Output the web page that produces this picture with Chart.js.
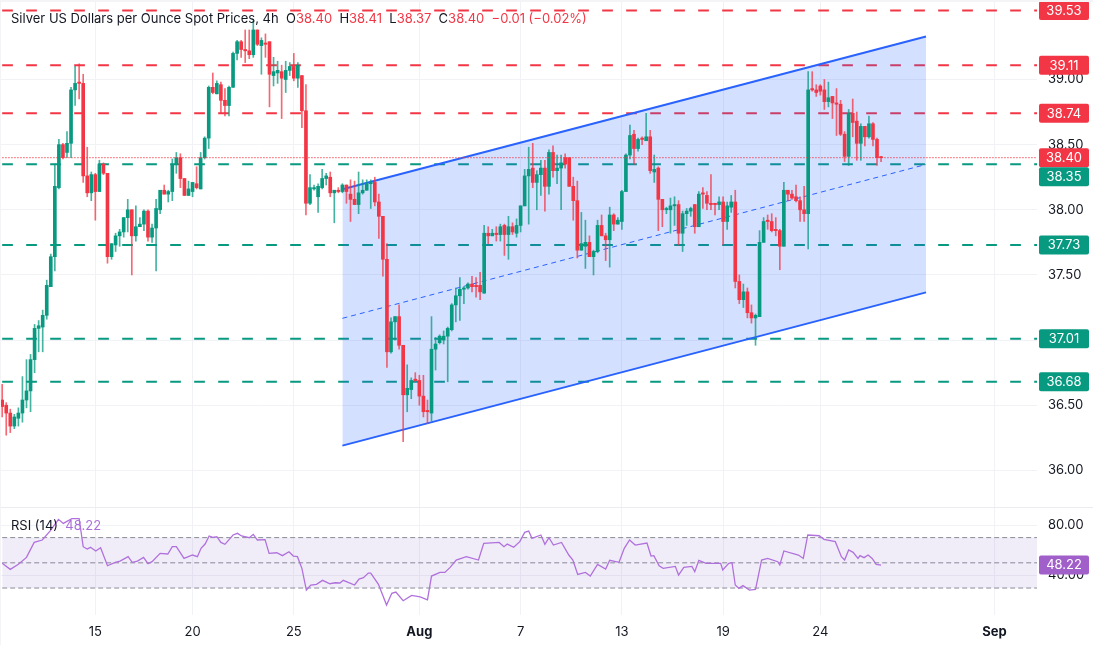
<!DOCTYPE html>
<html>
<head>
<meta charset="utf-8">
<title>Silver US Dollars per Ounce Spot Prices</title>
<script src="https://cdn.jsdelivr.net/npm/chart.js@4"></script>
<style>
  html, body { margin: 0; padding: 0; background: #fff; }
  body { width: 1093px; height: 645px; position: relative; overflow: hidden; font-family: Inter, sans-serif; }
  canvas { position: absolute; left: 0; }
  #priceChart { top: 0; }
  #rsiChart { top: 507px; }
  .legend { position: absolute; left: 11px; font-size: 13px; line-height: 16px; color: #131722; white-space: pre; }
  .legend .r { color: #f23645; }
  .legend .p { color: #ab6fdb; }
  .rule { position: absolute; background: #eaecf2; }
</style>
</head>
<body>
<canvas id="priceChart" width="1093" height="507"></canvas>
<canvas id="rsiChart" width="1093" height="138"></canvas>
<div class="rule" style="left:0;top:0;width:1093px;height:2px;background:#f4f4f6"></div>
<div class="rule" style="left:0;top:507px;width:1093px;height:1px"></div>
<div class="rule" style="left:0;top:0;width:1px;height:645px;background:#f4f4f6"></div>
<div class="legend" style="top:10px">Silver US Dollars per Ounce Spot Prices, 4h  O<span class="r">38.40</span>  H<span class="r">38.41</span>  L<span class="r">38.37</span>  C<span class="r">38.40</span>  <span class="r">−0.01 (−0.02%)</span></div>
<div class="legend" style="top:517px">RSI (14)  <span class="p">48.22</span></div>
<script>
// 4h candles
var opens = [
  36.54,36.50,36.44,36.34,36.40,36.44,36.54,36.61,36.85,37.09,
  37.10,37.19,37.41,37.64,38.17,38.50,38.44,38.51,38.92,38.98,
  38.97,38.26,38.13,38.27,38.14,38.35,38.28,37.64,37.73,37.80,
  37.83,37.94,38.00,37.80,37.87,37.89,37.99,37.79,37.86,38.00,
  38.15,38.12,38.14,38.35,38.40,38.24,38.11,38.14,38.20,38.16,
  38.40,38.55,38.94,38.89,38.96,38.84,38.80,38.94,39.20,39.29,
  39.23,39.22,39.19,39.38,39.26,39.28,39.29,39.03,39.05,39.06,
  39.00,39.07,39.10,39.01,39.03,38.76,38.05,38.16,38.10,38.17,
  38.24,38.25,38.13,38.15,38.14,38.19,38.12,38.08,38.04,38.13,
  38.15,38.20,38.21,38.06,37.95,37.62,36.91,37.14,37.18,36.96,
  36.58,36.62,36.70,36.69,36.57,36.46,36.44,36.93,36.98,37.00,
  37.03,37.08,37.27,37.34,37.39,37.40,37.43,37.42,37.42,37.36,
  37.82,37.80,37.82,37.81,37.88,37.81,37.87,37.82,37.88,38.03,
  38.26,38.32,38.21,38.27,38.32,38.18,38.44,38.30,38.32,38.40,
  38.40,38.18,38.07,37.69,37.72,37.75,37.64,37.68,37.88,37.80,
  37.77,37.96,37.89,37.91,38.14,38.42,38.58,38.47,38.55,38.53,
  38.56,38.29,38.32,38.08,38.00,38.00,38.03,38.04,37.82,37.97,
  37.99,38.04,37.87,38.13,38.11,38.05,38.05,38.04,38.06,37.91,
  38.02,38.06,37.45,37.31,37.37,37.21,37.17,37.18,37.75,37.92,
  37.91,37.85,37.84,37.72,38.15,38.12,38.10,38.07,38.00,37.97,
  38.93,38.92,38.95,38.92,38.83,38.87,38.82,38.81,38.58,38.41,
  38.74,38.68,38.51,38.64,38.56,38.66,38.54,38.40
];
var highs = [
  36.66,36.52,36.47,36.43,36.48,36.72,36.85,36.89,37.12,37.15,
  37.23,37.46,37.66,38.35,38.54,38.51,38.60,38.94,39.10,39.12,
  39.04,38.48,38.29,38.28,38.38,38.36,38.28,37.74,37.82,37.85,
  37.94,38.08,38.00,38.03,37.94,38.00,38.00,37.89,38.08,38.15,
  38.19,38.15,38.39,38.44,38.43,38.24,38.22,38.21,38.33,38.44,
  38.56,38.95,39.05,38.99,38.98,38.93,38.95,39.21,39.30,39.30,
  39.38,39.38,39.45,39.38,39.32,39.35,39.29,39.17,39.14,39.11,
  39.14,39.13,39.20,39.13,39.03,38.96,38.27,38.19,38.20,38.31,
  38.28,38.29,38.15,38.17,38.20,38.19,38.23,38.22,38.29,38.23,
  38.23,38.23,38.25,38.12,37.95,37.74,37.17,37.18,37.27,36.96,
  36.81,36.71,36.75,36.73,36.73,36.54,37.18,37.02,37.04,37.07,
  37.10,37.28,37.40,37.48,37.41,37.44,37.49,37.48,37.52,37.88,
  37.87,37.85,37.87,37.89,37.89,37.95,37.90,37.93,38.03,38.31,
  38.48,38.51,38.30,38.38,38.38,38.46,38.49,38.42,38.42,38.43,
  38.40,38.25,38.22,37.98,37.92,37.80,37.69,37.92,37.96,37.82,
  38.02,37.97,37.94,38.15,38.43,38.65,38.61,38.55,38.56,38.74,
  38.61,38.42,38.33,38.08,38.02,38.09,38.10,38.07,37.99,38.01,
  38.02,38.04,38.14,38.17,38.14,38.27,38.05,38.10,38.10,38.06,
  38.11,38.15,37.50,37.43,37.40,37.27,37.20,37.84,37.94,37.96,
  37.97,37.94,37.85,38.21,38.15,38.15,38.19,38.10,38.18,39.06,
  39.06,38.96,38.96,39.00,38.98,38.87,38.93,38.84,38.60,38.77,
  38.85,38.75,38.66,38.64,38.72,38.67,38.55,38.41
];
var lows = [
  36.41,36.27,36.29,36.32,36.34,36.37,36.48,36.45,36.75,36.91,
  36.91,37.16,37.41,37.53,38.16,38.39,38.40,38.40,38.80,38.85,
  38.21,38.10,38.07,37.92,38.14,38.27,37.59,37.62,37.68,37.72,
  37.79,37.83,37.50,37.76,37.87,37.84,37.76,37.75,37.53,37.97,
  38.12,38.06,38.07,38.28,38.17,38.11,38.11,38.10,38.16,38.16,
  38.39,38.47,38.89,38.89,38.74,38.72,38.72,38.94,39.15,39.17,
  39.13,39.16,39.17,39.26,39.04,39.17,38.79,38.95,38.97,38.70,
  38.90,39.03,38.99,38.94,38.63,37.96,38.04,38.15,37.98,38.16,
  38.19,38.10,37.90,38.13,38.13,38.05,37.91,38.04,37.97,38.12,
  38.15,38.01,38.03,37.78,37.49,36.79,36.90,37.00,36.93,36.22,
  36.45,36.55,36.68,36.50,36.41,36.36,36.38,36.77,36.97,36.97,
  36.68,37.07,37.14,37.15,37.28,37.39,37.37,37.33,37.31,37.36,
  37.74,37.80,37.76,37.76,37.65,37.62,37.81,37.79,37.83,38.03,
  37.89,38.17,38.00,38.11,37.99,38.12,38.25,38.20,38.00,38.32,
  38.18,37.92,37.63,37.69,37.55,37.64,37.50,37.67,37.80,37.61,
  37.56,37.84,37.89,37.85,38.14,38.39,38.35,38.45,38.50,38.53,
  38.28,38.21,37.84,37.87,37.97,37.82,37.88,37.73,37.68,37.88,
  37.95,37.82,37.87,38.01,38.00,38.00,37.96,38.00,37.73,37.85,
  37.98,37.40,37.28,37.25,37.17,37.13,36.96,37.18,37.75,37.85,
  37.83,37.80,37.54,37.72,38.07,38.08,38.06,37.91,37.91,37.70,
  38.91,38.87,38.88,38.77,38.79,38.70,38.57,38.57,38.37,38.34,
  38.56,38.38,38.38,38.49,38.55,38.49,38.34,38.37
];
var closes = [
  36.49,36.44,36.34,36.41,36.44,36.54,36.61,36.85,37.09,37.11,
  37.19,37.42,37.64,38.18,38.50,38.40,38.51,38.92,38.97,38.97,
  38.26,38.13,38.27,38.14,38.35,38.28,37.64,37.74,37.80,37.83,
  37.94,38.00,37.80,37.87,37.89,37.99,37.79,37.86,38.01,38.15,
  38.12,38.14,38.35,38.40,38.24,38.11,38.16,38.21,38.17,38.40,
  38.55,38.94,38.90,38.97,38.84,38.80,38.94,39.20,39.29,39.23,
  39.22,39.19,39.38,39.27,39.30,39.27,39.04,39.06,39.07,39.01,
  39.07,39.10,39.01,39.11,38.76,38.05,38.17,38.17,38.18,38.24,
  38.26,38.13,38.15,38.14,38.19,38.14,38.08,38.04,38.13,38.15,
  38.20,38.21,38.06,37.95,37.62,36.91,37.14,37.18,36.96,36.58,
  36.63,36.69,36.69,36.57,36.45,36.45,36.93,36.97,37.03,37.03,
  37.09,37.27,37.34,37.39,37.40,37.43,37.41,37.41,37.37,37.82,
  37.80,37.82,37.81,37.87,37.81,37.87,37.83,37.88,38.03,38.26,
  38.31,38.21,38.27,38.32,38.18,38.44,38.30,38.32,38.36,38.35,
  38.18,38.07,37.69,37.74,37.75,37.64,37.68,37.88,37.80,37.77,
  37.96,37.89,37.92,38.14,38.42,38.57,38.47,38.54,38.54,38.56,
  38.30,38.31,38.08,38.00,38.01,38.03,38.04,37.82,37.97,37.99,
  38.01,37.87,38.12,38.12,38.05,38.04,38.04,38.06,37.91,38.03,
  38.06,37.45,37.31,37.37,37.21,37.17,37.19,37.75,37.91,37.91,
  37.84,37.84,37.72,38.15,38.12,38.09,38.07,38.00,37.97,38.92,
  38.92,38.90,38.91,38.83,38.86,38.82,38.81,38.58,38.41,38.74,
  38.67,38.51,38.64,38.56,38.66,38.54,38.40,38.40
];

// drawn horizontal levels
var resistanceLevels = [39.53, 39.11, 38.74];
var supportLevels = [38.35, 37.73, 37.01, 36.68];
var lastPrice = 38.40;

// rising channel, ends given as [candle index, price]
var channelX = [84.0, 228.1];
var channelUpper = [38.157, 39.33];
var channelMiddle = [37.167, 38.348];
var channelLower = [36.19, 37.366];

var priceTicks = [36, 36.5, 37, 37.5, 38, 38.5, 39];
var dateTicks = [23, 47, 72, 103, 128, 153, 178, 202, 245];
var dateLabels = ["15", "20", "25", "Aug", "7", "13", "19", "24", "Sep"];

// RSI line, vertices
var rsiIndex = [
  0,2,4,6,7.9,9.9,11.8,13.9,15.1,17.2,19,20,21,21.8,23.1,24.3,26,27.9,29.1,31.1,
  32.1,33.4,34.9,36,37,39,40.9,42,43,44.9,47,48.2,49.1,50.1,51.1,52,53,54,55,57,
  58.1,59.1,61,62,63,64.9,65.9,67.8,69.2,70.8,71.9,72.9,74,75.1,76.2,77.6,79.1,80.9,82.2,83.4,
  84.2,87,88.1,89.2,90.4,91,92.9,94.9,96.2,97.2,99,101.1,103.2,105,106,108.1,109.3,110.6,
  112.1,114.6,117.6,118.9,122.7,123.9,124.7,126.3,127.8,129,130,130.8,133,134,135,136.1,138.1,139.9,140.9,142.1,
  144,145.2,147,149,150,152.3,153.6,154.9,156.3,159.2,160.2,160.9,162.2,163.2,166.2,167,168.3,170.3,171,172,
  173.8,177.4,177.9,179.4,180.2,181,181.9,182.9,184.5,186,187.5,189,191.5,192,193,196.6,197.8,198.9,201.7,202.9,
  205.7,207.2,208,209,210.1,211.3,211.8,212.8,213.8,214.8,215.8,217
];
var rsiValues = [
  49.6,44.8,48.8,54.3,66.2,68.1,75.2,84.5,81.3,85,85,62.8,61,62.3,59.4,62,47.7,50.4,51.4,54.9,
  50.4,51.4,54.3,49.3,50.9,57.5,57,62.8,62.8,53.5,56.2,54.9,61.5,64.9,71.3,70.2,70.7,66.2,64.7,72.1,
  73.4,71.3,69.9,72.6,68.1,68.4,57.5,58,55.7,58.8,55.4,54.9,45.6,28.4,32.4,32.9,36.1,33.4,34.2,34,
  36.1,32.4,37.1,38.2,41.9,41.9,32.9,16.5,25.8,26.8,19.9,24.2,22.9,20.7,39.5,42.4,42.4,46.4,
  52.2,54.9,52.2,65.5,66.2,62.8,64.9,62.3,66.8,74.2,75.2,69.4,72.1,64.7,69.9,64.1,66.2,56.2,52.2,40.8,
  42.4,39.5,48.8,45.1,52,50.4,61.5,68.1,64.1,65.7,55.4,55.7,47.7,45.6,47.2,40.3,46.4,47.2,43,52,
  49.6,49.6,44.3,49.6,50.1,32.4,29.7,31.9,28.4,28.9,52.2,53.5,50.9,48.3,59.4,56.2,53.5,72.1,71.5,68.6,
  66.8,54.9,52.2,60.2,58.3,53.5,55.7,54.1,56.2,53.5,48.8,48.22
];
var rsiLevels = [70, 50, 30];
var rsiTicks = [40, 80];
var rsiLast = 48.22;

var upColor = "#089981", downColor = "#f23645";
var gridColor = "#f0f2f6";
var textFont = { family: "Inter, sans-serif", size: 13 };
// candle index at the left and right edge of the plot (plot is 1037px wide, 4.05px per candle)
var xMin = -0.54, xMax = 255.5;

function isUp(i) { return closes[i] > opens[i]; }
function candleColors(alpha) {
  return opens.map(function (o, i) {
    if (alpha == 1) return isUp(i) ? upColor : downColor;
    return isUp(i) ? "rgba(8,153,129," + alpha + ")" : "rgba(242,54,69," + alpha + ")";
  });
}
function flatLine(v) { return [{ x: 0, y: v }, { x: xMax, y: v }]; }
function pairLine(ys) { return channelX.map(function (x, i) { return { x: x, y: ys[i] }; }); }

function badge(ctx, y, color, text) {
  ctx.fillStyle = color;
  ctx.beginPath();
  ctx.roundRect(1039, y - 9.5, 50, 19, 2);
  ctx.fill();
  ctx.fillStyle = "#fff";
  ctx.font = "13px Inter, sans-serif";
  ctx.textAlign = "center";
  ctx.textBaseline = "middle";
  ctx.fillText(text, 1064, y + 0.5);
}

// price labels on the right axis, pushed down when two of them would overlap
var priceBadges = {
  id: "priceBadges",
  afterDraw: function (chart) {
    var y = chart.scales.y, ctx = chart.ctx;
    var items = [];
    resistanceLevels.forEach(function (v) { items.push([v, downColor]); });
    items.push([lastPrice, downColor]);
    supportLevels.forEach(function (v) { items.push([v, upColor]); });
    var prevBottom = -100;
    items.forEach(function (it) {
      var py = Math.max(y.getPixelForValue(it[0]), prevBottom + 9.5);
      badge(ctx, py, it[1], it[0].toFixed(2));
      prevBottom = py + 9.5;
    });
  }
};

var rsiBadge = {
  id: "rsiBadge",
  afterDraw: function (chart) {
    badge(chart.ctx, chart.scales.y.getPixelForValue(rsiLast), "#a05fc9", rsiLast.toFixed(2));
  }
};

// higher order is painted first: levels, then channel, then candles
var priceDatasets = [
  {
    label: "wicks", type: "bar", order: 6, grouped: false, barThickness: 1,
    backgroundColor: candleColors(0.75),
    data: opens.map(function (o, i) { return { x: i, y: [lows[i], highs[i]] }; })
  },
  {
    label: "bodies", type: "bar", order: 5, grouped: false, barThickness: 3, minBarLength: 1,
    backgroundColor: candleColors(1),
    data: opens.map(function (o, i) { return { x: i, y: [opens[i], closes[i]] }; })
  },
  {
    label: "last", type: "line", order: 4, data: flatLine(lastPrice),
    borderColor: "rgba(242,54,69,0.7)", borderWidth: 1.3, borderDash: [1.5, 1.5], pointRadius: 0
  }
];
resistanceLevels.forEach(function (v) {
  priceDatasets.push({
    type: "line", order: 8, data: flatLine(v),
    borderColor: downColor, borderWidth: 2, borderDash: [10.7, 13.3], pointRadius: 0
  });
});
supportLevels.forEach(function (v) {
  priceDatasets.push({
    type: "line", order: 8, data: flatLine(v),
    borderColor: upColor, borderWidth: 2, borderDash: [10.7, 13.3], pointRadius: 0
  });
});
priceDatasets.push({
  label: "upper", type: "line", order: 7, data: pairLine(channelUpper),
  borderColor: "#2962ff", borderWidth: 2, pointRadius: 0,
  fill: { target: "+1" }, backgroundColor: "rgba(41,98,255,0.2)"
});
priceDatasets.push({
  label: "lower", type: "line", order: 7, data: pairLine(channelLower),
  borderColor: "#2962ff", borderWidth: 2, pointRadius: 0
});
priceDatasets.push({
  label: "middle", type: "line", order: 7, data: pairLine(channelMiddle),
  borderColor: "#2962ff", borderWidth: 1, borderDash: [5, 4], pointRadius: 0
});

function xScale(showLabels) {
  return {
    type: "linear", min: xMin, max: xMax, offset: false,
    afterBuildTicks: function (axis) {
      axis.ticks = dateTicks.map(function (v) { return { value: v }; });
    },
    afterFit: function (axis) {
      axis.height = showLabels ? 30 : 0;
      axis.paddingLeft = 0;
      axis.paddingRight = 0;
    },
    grid: { color: gridColor, drawTicks: false, offset: false },
    border: { display: false },
    ticks: {
      display: showLabels, maxRotation: 0, autoSkip: false, padding: 9, color: "#131722",
      callback: function (v) { return dateLabels[dateTicks.indexOf(v)]; },
      font: function (c) {
        var label = dateLabels[dateTicks.indexOf(c.tick ? c.tick.value : -1)];
        var bold = label == "Aug" || label == "Sep";
        return { family: textFont.family, size: textFont.size, weight: bold ? "bold" : "normal" };
      }
    }
  };
}
function yScale(min, max, values) {
  return {
    position: "right", min: min, max: max,
    afterBuildTicks: function (axis) {
      axis.ticks = values.map(function (v) { return { value: v }; });
    },
    afterFit: function (axis) {
      axis.width = 56;
      axis.paddingTop = 0;
      axis.paddingBottom = 0;
    },
    grid: { color: gridColor, drawTicks: false },
    border: { display: false },
    ticks: {
      padding: 11, color: "#131722", font: textFont,
      callback: function (v) { return v.toFixed(2); }
    }
  };
}

new Chart("priceChart", {
  type: "bar",
  data: { datasets: priceDatasets },
  options: {
    responsive: false, animation: false,
    layout: { padding: 0 },
    plugins: { legend: { display: false }, tooltip: { enabled: false } },
    scales: { x: xScale(false), y: yScale(35.719, 39.610, priceTicks) }
  },
  plugins: [priceBadges]
});

var rsiDatasets = [{
  label: "rsi", type: "line", order: 1,
  data: rsiIndex.map(function (x, i) { return { x: x, y: rsiValues[i] }; }),
  borderColor: "#b071dc", borderWidth: 1.3, pointRadius: 0, tension: 0
}];
rsiLevels.forEach(function (v, i) {
  var ds = {
    type: "line", order: 2, data: flatLine(v),
    borderColor: "#8a8d96", borderWidth: 1, borderDash: [5, 3], pointRadius: 0
  };
  // band between the top and bottom RSI levels
  if (i == 0) { ds.fill = { target: "+2" }; ds.backgroundColor = "rgba(126,87,194,0.11)"; }
  rsiDatasets.push(ds);
});

new Chart("rsiChart", {
  type: "line",
  data: { datasets: rsiDatasets },
  options: {
    responsive: false, animation: false,
    layout: { padding: 0 },
    plugins: { legend: { display: false }, tooltip: { enabled: false } },
    scales: { x: xScale(true), y: yScale(8.6, 94.3, rsiTicks) }
  },
  plugins: [rsiBadge]
});
</script>
</body>
</html>
